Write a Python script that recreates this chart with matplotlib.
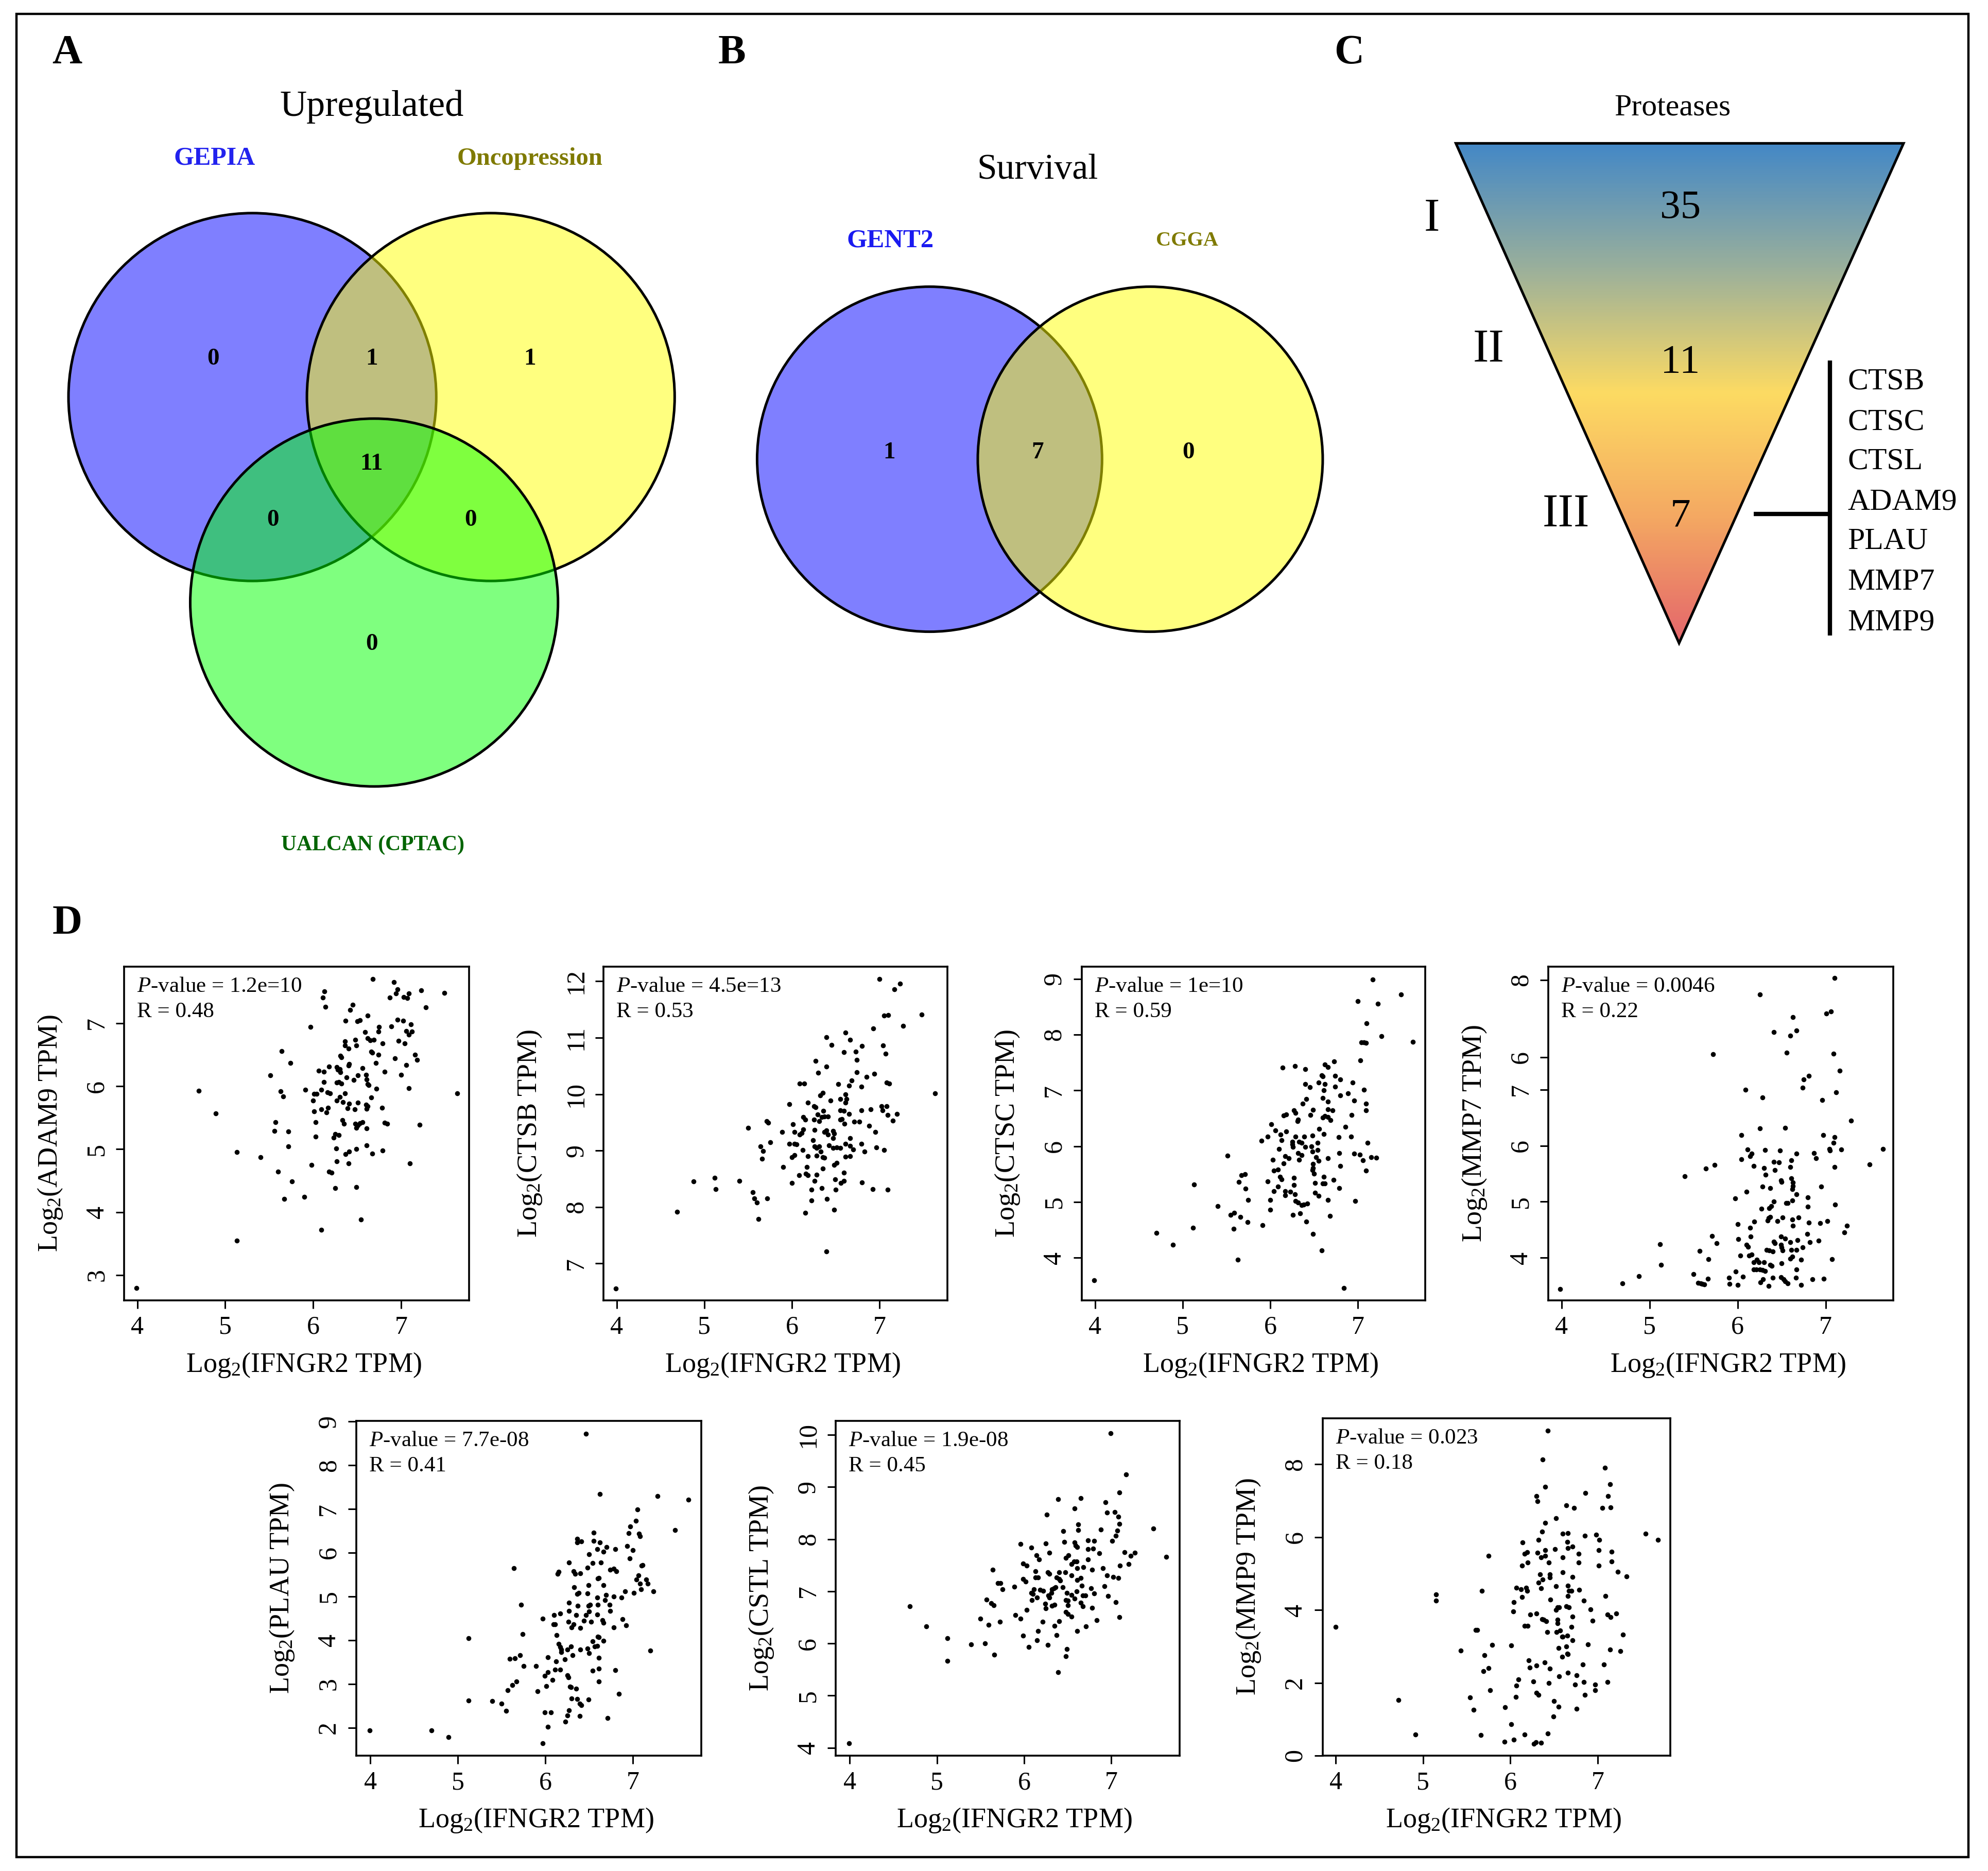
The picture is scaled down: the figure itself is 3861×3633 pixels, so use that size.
import numpy as np
import matplotlib
matplotlib.use('Agg')
import matplotlib.pyplot as plt
from matplotlib.patches import Circle, Polygon, Rectangle
from matplotlib.colors import LinearSegmentedColormap

plt.rcParams['font.family'] = ['Liberation Serif', 'DejaVu Serif']
plt.rcParams['mathtext.fontset'] = 'custom'
plt.rcParams['mathtext.rm'] = 'Liberation Serif'
plt.rcParams['mathtext.it'] = 'Liberation Serif:italic'
plt.rcParams['mathtext.bf'] = 'Liberation Serif:bold'

# scatter values (x = IFNGR2, y = gene)
adam9_pts = [(3.99,2.79),(4.70,5.93),(4.89,5.57),(5.13,4.95),(5.13,3.55),(5.40,4.87),(5.51,6.17),(5.56,5.29),(5.57,5.43),(5.60,4.64),
(5.64,6.56),(5.63,5.92),(5.66,5.84),(5.72,5.28),(5.72,5.04),(5.67,4.21),(5.74,6.37),(5.76,4.49),(5.90,4.24),(5.91,5.94),
(5.97,6.94),(5.98,4.75),(6.00,5.77),(6.01,5.88),(6.04,5.88),(6.01,5.60),(6.03,5.43),(6.03,5.20),(6.06,6.25),(6.09,5.94),
(6.09,5.63),(6.09,3.72),(6.11,7.41),(6.13,7.51),(6.14,7.26),(6.12,6.07),(6.12,6.23),(6.18,6.31),(6.16,5.90),(6.19,5.89),
(6.15,5.58),(6.17,5.66),(6.18,4.64),(6.21,4.63),(6.23,5.18),(6.25,4.38),(6.26,5.01),(6.27,5.77),(6.25,5.24),(6.29,5.22),
(6.27,4.81),(6.27,6.30),(6.28,6.26),(6.30,6.27),(6.31,6.22),(6.27,6.06),(6.29,6.07),(6.32,6.04),(6.30,5.83),(6.31,6.48),
(6.32,6.46),(6.34,5.75),(6.33,5.46),(6.36,5.89),(6.35,5.40),(6.37,7.04),(6.36,6.71),(6.36,6.65),(6.40,6.60),(6.38,6.14),
(6.40,6.33),(6.41,6.35),(6.39,5.65),(6.41,5.72),(6.37,4.92),(6.41,4.96),(6.40,4.77),(6.42,7.21),(6.45,7.29),(6.46,6.10),
(6.47,5.63),(6.48,6.74),(6.49,6.65),(6.50,7.03),(6.53,7.05),(6.48,5.40),(6.49,5.34),(6.51,5.38),(6.49,5.00),(6.49,4.40),
(6.51,5.74),(6.51,6.17),(6.56,6.29),(6.53,5.41),(6.56,5.43),(6.54,3.88),(6.59,6.86),(6.62,7.12),(6.60,6.18),(6.61,6.11),
(6.62,6.03),(6.63,6.02),(6.66,5.82),(6.60,5.71),(6.62,5.68),(6.61,5.64),(6.61,5.33),(6.61,5.06),(6.67,4.93),(6.62,6.76),
(6.65,6.73),(6.69,6.74),(6.66,6.55),(6.67,6.53),(6.74,6.50),(6.71,6.37),(6.74,6.87),(6.75,6.94),(6.79,6.68),(6.81,6.23),
(6.72,5.96),(6.78,5.66),(6.81,5.42),(6.84,5.40),(6.79,4.98),(6.68,7.70),(6.87,7.41),(6.92,7.65),(6.96,7.54),(6.94,7.47),
(6.89,6.95),(6.96,7.06),(7.02,7.04),(6.97,6.72),(7.04,6.68),(6.93,6.44),(7.06,6.34),(7.00,6.18),(7.09,5.97),(7.03,7.42),
(7.07,7.40),(7.09,7.47),(7.23,7.52),(7.49,7.48),(7.28,7.25),(7.11,6.98),(7.06,6.88),(7.12,6.87),(7.09,6.82),(7.16,6.50),
(7.18,6.42),(7.64,5.89),(7.21,5.39),(7.10,4.77)]

ctsb_pts = [(3.99,6.56),(4.69,7.92),(4.88,8.45),(5.12,8.52),(5.13,8.32),(5.40,8.46),(5.50,9.40),(5.55,8.26),(5.57,8.15),(5.60,8.08),
(5.62,7.79),(5.64,9.07),(5.67,8.99),(5.66,8.86),(5.71,9.52),(5.73,9.49),(5.72,8.15),(5.75,9.15),(5.89,9.33),(5.90,8.71),
(5.97,9.82),(5.97,9.12),(6.00,8.43),(6.01,9.47),(6.03,9.33),(6.03,9.12),(6.05,9.11),(6.00,8.88),(6.03,8.92),(6.09,10.19),
(6.14,10.19),(6.09,9.28),(6.11,9.31),(6.13,9.38),(6.12,9.01),(6.08,8.56),(6.13,9.59),(6.15,9.55),(6.18,9.85),(6.15,7.90),
(6.17,8.71),(6.16,8.59),(6.18,8.56),(6.18,8.90),(6.22,8.31),(6.22,8.12),(6.24,9.18),(6.27,10.59),(6.30,10.38),(6.25,9.79),
(6.27,9.77),(6.25,9.55),(6.29,9.64),(6.31,9.52),(6.26,9.37),(6.26,9.07),(6.28,9.05),(6.31,9.07),(6.33,8.98),(6.28,8.91),
(6.26,8.46),(6.28,8.57),(6.34,8.34),(6.32,9.98),(6.35,10.02),(6.34,9.59),(6.36,9.70),(6.37,9.60),(6.41,9.60),(6.39,11.01),
(6.39,10.49),(6.39,7.21),(6.35,8.68),(6.35,8.88),(6.37,8.87),(6.37,9.33),(6.39,9.36),(6.41,9.28),(6.42,9.09),(6.40,8.14),
(6.44,9.89),(6.45,10.87),(6.47,9.35),(6.48,9.30),(6.47,9.22),(6.47,9.05),(6.51,9.06),(6.55,9.05),(6.48,8.75),(6.51,8.78),
(6.49,8.49),(6.50,8.31),(6.48,7.95),(6.53,10.18),(6.55,9.91),(6.55,9.55),(6.55,9.71),(6.59,9.70),(6.57,9.56),(6.60,9.48),
(6.59,10.74),(6.61,11.09),(6.66,10.96),(6.61,10.00),(6.62,9.91),(6.61,9.85),(6.65,9.65),(6.59,8.61),(6.56,8.43),(6.59,8.46),
(6.61,8.89),(6.61,9.12),(6.66,9.22),(6.66,9.08),(6.66,8.90),(6.70,9.02),(6.65,10.15),(6.68,10.24),(6.71,9.51),(6.77,9.51),
(6.73,10.75),(6.74,10.61),(6.74,10.39),(6.79,10.13),(6.80,10.85),(6.79,9.71),(6.79,9.12),(6.80,8.44),(6.83,8.98),(6.85,10.31),
(6.90,9.73),(6.88,9.44),(6.92,8.32),(6.93,11.16),(6.94,10.36),(6.95,9.33),(6.96,9.06),(7.00,12.04),(7.02,9.79),(7.03,9.71),
(7.05,9.01),(7.04,10.86),(7.07,10.72),(7.05,11.39),(7.10,11.40),(7.08,9.79),(7.09,9.63),(7.08,10.21),(7.11,10.19),(7.09,8.31),
(7.15,9.53),(7.20,9.65),(7.17,11.86),(7.23,11.96),(7.27,11.21),(7.48,11.41),(7.63,10.01)]

ctsc_pts = [(3.99,3.60),(4.70,4.45),(4.89,4.23),(5.13,5.31),(5.12,4.54),(5.40,4.93),(5.51,5.83),(5.55,4.77),(5.59,4.81),(5.58,4.52),
(5.63,3.97),(5.64,5.36),(5.66,4.73),(5.67,5.48),(5.71,5.50),(5.72,5.24),(5.74,4.64),(5.75,5.04),(5.90,6.10),(5.91,4.58),
(5.97,6.17),(5.97,5.37),(6.00,5.04),(6.00,4.86),(6.01,6.39),(6.03,5.76),(6.04,5.19),(6.04,5.56),(6.06,6.28),(6.09,5.58),
(6.09,5.28),(6.10,5.95),(6.12,6.21),(6.13,6.11),(6.11,5.45),(6.13,5.41),(6.14,7.41),(6.15,5.69),(6.15,6.55),(6.18,6.57),
(6.18,6.26),(6.17,5.82),(6.21,5.78),(6.17,5.19),(6.17,5.12),(6.23,5.18),(6.27,5.43),(6.27,5.30),(6.28,5.14),(6.26,4.77),
(6.28,7.44),(6.27,6.64),(6.29,6.60),(6.25,6.08),(6.25,6.03),(6.26,5.99),(6.29,6.17),(6.31,6.45),(6.32,6.48),(6.29,5.02),
(6.32,4.99),(6.36,4.94),(6.38,4.95),(6.42,4.97),(6.34,4.80),(6.33,6.08),(6.36,6.06),(6.32,5.88),(6.36,5.84),(6.33,5.76),
(6.37,6.76),(6.39,6.17),(6.40,5.99),(6.40,7.38),(6.40,7.11),(6.45,7.06),(6.41,6.85),(6.41,4.65),(6.46,6.56),(6.49,6.65),
(6.47,6.00),(6.48,5.90),(6.48,6.19),(6.54,6.06),(6.54,5.93),(6.49,5.68),(6.49,5.61),(6.48,5.57),(6.50,5.51),(6.51,5.34),
(6.51,5.17),(6.55,5.11),(6.49,4.43),(6.56,6.31),(6.61,6.22),(6.52,5.80),(6.55,5.74),(6.55,7.14),(6.59,7.27),(6.60,7.25),
(6.62,7.11),(6.61,7.00),(6.60,6.86),(6.66,6.80),(6.60,6.51),(6.62,6.54),(6.66,6.52),(6.69,6.47),(6.66,6.66),(6.71,6.64),
(6.61,5.45),(6.60,5.33),(6.62,5.33),(6.59,4.13),(6.62,7.46),(6.66,7.42),(6.73,7.52),(6.66,5.78),(6.66,5.04),(6.68,4.75),
(6.72,5.40),(6.74,7.07),(6.74,7.26),(6.80,7.20),(6.80,6.91),(6.78,6.16),(6.79,5.88),(6.80,5.65),(6.79,5.25),(6.84,3.46),
(6.86,6.35),(6.89,6.95),(6.92,6.17),(6.93,6.56),(6.94,7.14),(6.96,6.82),(6.96,5.87),(6.97,5.02),(7.00,8.60),(7.02,5.85),
(7.03,7.54),(7.04,7.86),(7.07,7.86),(7.09,7.85),(7.06,5.75),(7.07,7.01),(7.09,6.76),(7.09,6.64),(7.09,5.56),(7.11,6.06),
(7.10,8.20),(7.17,8.99),(7.23,8.55),(7.27,7.97),(7.15,5.80),(7.21,5.79),(7.49,8.72),(7.63,7.87)]

mmp7_pts = [(3.98,3.44),(4.69,3.54),(4.88,3.67),(5.12,4.24),(5.13,3.87),(5.40,5.45),(5.50,3.71),(5.55,3.55),(5.58,3.54),(5.60,3.53),
(5.62,3.52),(5.64,5.59),(5.66,3.62),(5.57,4.12),(5.67,3.97),(5.71,4.39),(5.72,7.63),(5.74,5.66),(5.76,4.26),(5.90,3.64),
(5.91,3.53),(5.97,5.06),(5.98,3.75),(6.00,3.51),(6.00,4.60),(6.01,4.33),(6.03,4.04),(6.04,5.76),(6.04,6.19),(6.06,3.66),
(6.09,7.00),(6.10,5.18),(6.10,4.23),(6.12,4.19),(6.11,5.93),(6.13,4.04),(6.16,4.06),(6.14,4.53),(6.15,4.38),(6.14,5.81),
(6.16,5.86),(6.18,5.64),(6.19,4.64),(6.18,3.92),(6.18,3.79),(6.22,3.96),(6.21,3.79),(6.24,3.92),(6.25,3.79),(6.28,3.78),
(6.31,3.76),(6.25,8.70),(6.25,6.31),(6.28,6.86),(6.28,5.27),(6.27,4.87),(6.26,3.56),(6.29,3.61),(6.30,3.92),(6.31,5.92),
(6.30,5.60),(6.32,5.48),(6.33,4.14),(6.36,4.13),(6.40,4.11),(6.34,4.66),(6.35,4.71),(6.37,4.73),(6.37,5.24),(6.35,3.49),
(6.36,4.88),(6.38,4.92),(6.37,3.87),(6.39,3.85),(6.40,3.64),(6.41,8.03),(6.41,5.00),(6.41,4.29),(6.42,4.26),(6.41,5.71),
(6.47,5.70),(6.42,5.56),(6.45,4.65),(6.48,5.91),(6.49,4.38),(6.49,5.38),(6.50,5.35),(6.49,4.23),(6.50,4.18),(6.51,4.13),
(6.50,3.90),(6.49,3.65),(6.52,3.61),(6.54,3.58),(6.57,3.54),(6.51,4.72),(6.54,4.34),(6.54,6.32),(6.56,7.66),(6.55,4.98),
(6.57,4.98),(6.60,4.28),(6.61,4.14),(6.60,3.98),(6.62,4.02),(6.60,5.62),(6.61,5.74),(6.61,5.42),(6.60,7.97),(6.63,8.30),
(6.67,8.06),(6.63,5.34),(6.63,5.28),(6.62,5.22),(6.62,5.02),(6.62,4.68),(6.63,4.57),(6.67,5.86),(6.67,5.13),(6.67,4.14),
(6.68,4.31),(6.67,3.79),(6.66,3.64),(6.69,4.72),(6.72,3.51),(6.72,3.96),(6.74,4.18),(6.74,7.04),(6.75,7.18),(6.81,7.25),
(6.79,4.42),(6.82,4.28),(6.80,5.08),(6.80,4.91),(6.81,4.63),(6.85,3.61),(6.87,5.87),(6.89,5.78),(6.92,4.30),(6.94,4.62),
(6.95,5.27),(6.96,6.82),(6.97,6.19),(6.98,3.62),(7.01,8.36),(7.06,8.40),(7.02,4.65),(7.04,5.94),(7.05,5.91),(7.07,3.97),
(7.10,6.15),(7.09,6.05),(7.09,7.64),(7.10,9.00),(7.12,6.95),(7.10,5.62),(7.11,4.95),(7.16,7.34),(7.18,5.93),(7.21,4.45),
(7.24,4.57),(7.29,6.45),(7.50,5.67),(7.65,5.94)]

plau_pts = [(3.99,1.93),(4.70,1.93),(4.89,1.78),(5.12,4.05),(5.12,2.62),(5.39,2.61),(5.50,2.55),(5.55,2.38),(5.57,2.85),(5.59,3.57),
(5.62,2.97),(5.64,5.65),(5.65,3.58),(5.67,3.06),(5.71,3.66),(5.72,4.81),(5.74,4.14),(5.75,3.41),(5.89,3.41),(5.91,2.83),
(5.97,4.49),(5.97,1.64),(5.99,3.19),(6.01,2.95),(5.99,2.35),(6.03,3.27),(6.03,3.61),(6.03,2.02),(6.06,2.35),(6.08,3.09),
(6.10,4.57),(6.09,4.36),(6.11,4.36),(6.11,3.33),(6.12,3.52),(6.13,4.12),(6.14,5.52),(6.15,5.56),(6.15,3.92),(6.17,3.32),
(6.17,4.61),(6.17,3.84),(6.18,3.78),(6.18,3.73),(6.22,3.56),(6.23,2.14),(6.25,2.28),(6.27,2.40),(6.25,3.79),(6.25,3.20),
(6.26,3.15),(6.26,4.42),(6.27,4.86),(6.27,4.67),(6.27,5.78),(6.28,2.94),(6.29,2.93),(6.30,2.67),(6.29,3.86),(6.31,3.65),
(6.30,4.29),(6.32,4.36),(6.32,5.57),(6.34,5.52),(6.33,5.21),(6.35,2.89),(6.36,2.66),(6.35,4.58),(6.37,4.79),(6.36,5.06),
(6.38,5.08),(6.36,6.32),(6.36,6.24),(6.41,6.26),(6.39,2.55),(6.41,2.51),(6.39,2.26),(6.40,5.53),(6.40,4.28),(6.40,3.78),
(6.46,8.72),(6.44,4.45),(6.46,4.58),(6.48,5.66),(6.48,5.07),(6.48,3.81),(6.49,2.64),(6.49,5.26),(6.49,4.79),(6.50,5.96),
(6.51,4.81),(6.50,4.66),(6.50,3.70),(6.52,4.42),(6.54,5.77),(6.54,3.30),(6.55,6.46),(6.55,6.27),(6.54,3.97),(6.56,3.86),
(6.59,3.87),(6.59,4.98),(6.59,6.08),(6.60,5.41),(6.61,5.42),(6.60,4.81),(6.59,4.59),(6.60,4.08),(6.61,4.07),(6.61,3.60),
(6.61,3.35),(6.61,3.06),(6.62,7.34),(6.62,6.23),(6.63,5.78),(6.66,6.02),(6.66,5.26),(6.65,4.46),(6.66,4.40),(6.66,3.99),
(6.69,5.03),(6.68,4.92),(6.70,6.13),(6.71,2.22),(6.73,4.81),(6.74,4.67),(6.74,5.61),(6.78,5.63),(6.81,5.57),(6.78,4.29),
(6.78,5.00),(6.80,6.08),(6.80,3.31),(6.84,2.77),(6.87,4.97),(6.88,4.48),(6.91,5.12),(6.92,4.34),(6.93,6.15),(6.95,6.45),
(6.96,5.87),(6.97,6.60),(7.00,6.06),(7.01,5.08),(7.03,6.73),(7.04,5.39),(7.05,6.99),(7.06,5.48),(7.07,6.43),(7.08,6.38),
(7.08,5.29),(7.09,5.16),(7.10,5.70),(7.11,5.72),(7.15,5.39),(7.17,5.29),(7.20,3.76),(7.23,5.12),(7.28,7.30),(7.48,6.52),
(7.63,7.21)]

cstl_pts = [(3.99,4.09),(4.69,6.71),(4.88,6.33),(5.12,6.10),(5.12,5.67),(5.39,5.98),(5.50,6.47),(5.55,6.00),(5.57,6.84),(5.59,6.36),
(5.62,6.77),(5.65,6.73),(5.64,7.41),(5.66,5.78),(5.70,7.16),(5.73,7.16),(5.72,6.42),(5.75,7.04),(5.89,7.09),(5.90,6.54),
(5.96,7.91),(5.96,6.47),(5.99,7.24),(6.02,7.19),(5.99,6.15),(5.99,7.53),(6.03,7.49),(6.03,6.64),(6.05,5.93),(6.08,7.84),
(6.08,6.97),(6.10,6.95),(6.09,6.83),(6.11,7.04),(6.13,7.38),(6.13,7.26),(6.16,7.26),(6.15,6.88),(6.14,7.69),(6.17,7.61),
(6.16,6.24),(6.15,6.06),(6.18,7.03),(6.22,7.01),(6.21,6.42),(6.25,7.92),(6.24,6.76),(6.25,6.67),(6.27,7.36),(6.29,7.33),
(6.26,8.47),(6.27,5.97),(6.28,6.92),(6.29,6.88),(6.29,7.74),(6.31,6.97),(6.32,7.04),(6.34,7.06),(6.32,6.72),(6.35,6.74),
(6.36,7.08),(6.37,7.26),(6.40,7.36),(6.40,7.24),(6.41,7.21),(6.35,6.34),(6.37,6.16),(6.39,8.77),(6.40,6.43),(6.39,5.45),
(6.44,7.08),(6.45,8.15),(6.46,7.95),(6.47,7.36),(6.49,6.97),(6.48,7.64),(6.51,7.69),(6.48,6.83),(6.50,6.82),(6.50,6.73),
(6.48,6.60),(6.50,6.56),(6.54,6.51),(6.49,5.89),(6.48,5.75),(6.54,7.52),(6.57,7.57),(6.60,7.57),(6.54,7.30),(6.54,6.93),
(6.58,8.59),(6.58,7.94),(6.59,7.88),(6.61,7.85),(6.61,7.44),(6.58,6.86),(6.60,7.00),(6.61,6.24),(6.62,8.28),(6.62,8.17),
(6.65,8.79),(6.61,7.22),(6.65,7.25),(6.66,7.11),(6.65,6.78),(6.67,6.71),(6.67,6.92),(6.70,6.92),(6.68,7.46),(6.73,7.61),
(6.73,7.98),(6.73,7.81),(6.79,7.82),(6.80,7.97),(6.71,6.33),(6.78,7.41),(6.77,7.06),(6.80,6.96),(6.78,6.68),(6.83,6.45),
(6.86,7.73),(6.88,8.18),(6.90,7.44),(6.92,7.10),(6.93,8.71),(6.95,8.51),(6.95,7.30),(6.96,6.91),(6.99,10.03),(7.01,7.97),
(7.02,7.27),(7.04,8.52),(7.05,8.06),(7.05,6.79),(7.07,8.16),(7.08,7.25),(7.08,8.43),(7.09,8.29),(7.09,6.50),(7.09,8.89),
(7.10,7.49),(7.15,7.75),(7.17,9.24),(7.20,7.52),(7.22,7.68),(7.27,7.74),(7.48,8.20),(7.63,7.66)]

mmp9_pts = [(4.00,3.54),(4.72,1.53),(4.91,0.58),(5.15,4.42),(5.15,4.26),(5.43,2.88),(5.54,1.60),(5.58,1.26),(5.60,3.45),(5.62,3.45),
(5.66,0.57),(5.67,4.53),(5.69,2.32),(5.70,2.76),(5.75,2.41),(5.75,5.49),(5.77,1.80),(5.79,3.04),(5.93,0.38),(5.94,1.33),
(6.01,3.02),(6.01,0.86),(6.03,3.96),(6.04,4.21),(6.04,0.44),(6.07,1.92),(6.06,1.61),(6.07,4.61),(6.09,2.09),(6.12,4.57),
(6.13,4.35),(6.13,5.22),(6.14,5.86),(6.16,3.56),(6.16,0.58),(6.16,5.55),(6.19,5.58),(6.18,4.61),(6.19,4.53),(6.20,3.57),
(6.20,5.31),(6.21,2.61),(6.22,2.42),(6.23,3.88),(6.26,2.04),(6.27,0.33),(6.29,0.37),(6.35,0.35),(6.30,7.13),(6.31,6.99),
(6.30,3.90),(6.30,2.47),(6.30,1.73),(6.32,1.67),(6.32,4.75),(6.31,5.57),(6.32,5.93),(6.34,4.98),(6.35,4.60),(6.35,5.45),
(6.37,4.83),(6.36,6.15),(6.37,8.14),(6.36,3.75),(6.38,3.73),(6.40,7.38),(6.40,6.39),(6.40,5.49),(6.40,5.64),(6.39,2.56),
(6.41,3.69),(6.42,3.40),(6.43,8.93),(6.43,0.60),(6.44,5.30),(6.44,2.00),(6.45,4.98),(6.45,4.90),(6.45,2.39),(6.46,4.29),
(6.49,1.08),(6.50,1.50),(6.52,6.52),(6.51,5.67),(6.52,4.65),(6.52,4.00),(6.54,4.07),(6.54,3.73),(6.54,3.64),(6.53,3.40),
(6.56,4.07),(6.55,2.95),(6.56,2.17),(6.55,1.34),(6.57,3.44),(6.59,3.26),(6.59,2.72),(6.60,6.09),(6.60,5.44),(6.60,5.04),
(6.60,3.26),(6.64,3.00),(6.65,3.29),(6.64,6.87),(6.66,6.11),(6.65,5.87),(6.66,5.70),(6.71,5.74),(6.65,2.80),(6.66,2.78),
(6.64,4.10),(6.67,4.07),(6.66,4.67),(6.67,4.52),(6.70,4.53),(6.66,4.38),(6.66,2.27),(6.71,4.91),(6.71,3.82),(6.70,3.54),
(6.71,3.17),(6.73,6.80),(6.74,1.95),(6.76,1.28),(6.76,2.20),(6.78,5.55),(6.78,5.31),(6.79,4.56),(6.83,2.50),(6.84,4.26),
(6.84,2.02),(6.86,7.21),(6.85,6.04),(6.85,1.67),(6.89,3.05),(6.92,4.02),(6.94,3.70),(6.97,1.95),(6.97,1.80),(6.98,6.07),
(7.02,5.92),(7.01,5.65),(7.01,5.22),(7.05,6.80),(7.07,2.50),(7.08,7.91),(7.09,4.38),(7.11,2.02),(7.11,3.87),(7.12,7.13),
(7.14,7.45),(7.15,6.82),(7.14,2.91),(7.15,3.81),(7.16,5.33),(7.16,5.60),(7.21,3.91),(7.23,5.05),(7.26,2.87),(7.29,3.33),
(7.33,4.92),(7.55,6.09),(7.69,5.92)]

# venn counts
up_counts = ['0', '1', '1', '11', '0', '0', '0']
surv_counts = ['1', '7', '0']
funnel_counts = ['35', '11', '7']
funnel_levels = ['I', 'II', 'III']
genes = ['CTSB', 'CTSC', 'CTSL', 'ADAM9', 'PLAU', 'MMP7', 'MMP9']

W, H = 1568, 1475  # work in the small-picture pixel grid

fig = plt.figure(figsize=(38.62, 36.33), dpi=100)
bg = fig.add_axes([0, 0, 1, 1])
bg.set_xlim(0, W)
bg.set_ylim(H, 0)
bg.axis('off')


def put(x, y, s, **kw):
    # va=center sits a bit high in this font
    kw.setdefault('ha', 'center')
    bg.text(x, y + 2, s, va='center', **kw)


# outer frame
bg.add_patch(Rectangle((13, 11), 1539, 1453, fill=False, ec='black', lw=3.2))

for lab, x, y in [('A', 53, 40), ('B', 577, 40), ('C', 1064, 40), ('D', 53, 726)]:
    put(x, y, lab, fontsize=58, fontweight='bold')


def venn_circle(x, y, r, col):
    bg.add_patch(Circle((x, y), r, fc=col, alpha=0.5, ec='none'))
    bg.add_patch(Circle((x, y), r, fill=False, ec='black', lw=3.6))


# panel A
venn_circle(199, 313, 145, 'blue')
venn_circle(387, 313, 145, 'yellow')
venn_circle(295, 475, 145, 'lime')
put(293, 82, 'Upregulated', fontsize=52)
put(169, 123, 'GEPIA', fontsize=36, fontweight='bold', color='#2222ee')
put(418, 123, 'Oncopression', fontsize=35, fontweight='bold', color='#7f7a00')
put(294, 664, 'UALCAN (CPTAC)', fontsize=30, fontweight='bold', color='#006400')
up_xy = [(168, 281), (293, 281), (418, 281), (293, 364), (215, 408), (371, 408), (293, 506)]
for t, (x, y) in zip(up_counts, up_xy):
    put(x, y, t, fontsize=34, fontweight='bold')

# panel B
venn_circle(733, 362, 136, 'blue')
venn_circle(907, 362, 136, 'yellow')
put(818, 132, 'Survival', fontsize=50)
put(702, 188, 'GENT2', fontsize=36.5, fontweight='bold', color='#1a1af0')
put(936, 188, 'CGGA', fontsize=29, fontweight='bold', color='#7f7a00')
for t, x in zip(surv_counts, [701, 818, 937]):
    put(x, 355, t, fontsize=34, fontweight='bold')

# panel C, funnel with colour gradient
cm = LinearSegmentedColormap.from_list('fun', ['#4488c6', '#9bb09b', '#fddb63', '#f4a862', '#e4666c'],)
grad = np.linspace(0, 1, 400).reshape(-1, 1)
tri = Polygon([(1148, 113), (1501, 113), (1324, 507)], closed=True, fc='none', ec='black', lw=3.6, joinstyle='miter')
im = bg.imshow(grad, extent=[1148, 1501, 507, 113], aspect='auto', cmap=cm, zorder=1)
bg.add_patch(tri)
tri.set_zorder(2)
im.set_clip_path(tri)
bg.set_xlim(0, W)
bg.set_ylim(H, 0)
put(1319, 83, 'Proteases', fontsize=43)
for t, y in zip(funnel_counts, [162, 284, 405]):
    put(1325, y, t, fontsize=57, zorder=3)
for t, x, y in zip(funnel_levels, [1129, 1174, 1235], [171, 274, 404]):
    put(x, y, t, fontsize=66)
bg.plot([1383, 1443], [405, 405], color='black', lw=6, solid_capstyle='butt')
bg.plot([1443, 1443], [284, 501], color='black', lw=6, solid_capstyle='butt')
for g, y in zip(genes, [299, 331, 362, 394, 425, 457, 489]):
    put(1457, y, g, fontsize=43, ha='left')

# panel D scatter plots
XLAB = 'Log$_2$(IFNGR2 TPM)'


def scatter_panel(box, pts, ylab, pval, r, xlim, ylim, yticks, yticklabels=None):
    l, r_, t, b = box
    ax = fig.add_axes([l / W, 1 - b / H, (r_ - l) / W, (b - t) / H])
    arr = np.array(pts)
    ax.scatter(arr[:, 0], arr[:, 1], s=48, c='black', lw=0, clip_on=False)
    ax.set_xlim(*xlim)
    ax.set_ylim(*ylim)
    ax.set_xticks([4, 5, 6, 7])
    ax.set_yticks(yticks)
    if yticklabels is not None:
        ax.set_yticklabels(yticklabels)
    ax.tick_params(length=11.5, width=2.2, labelsize=36, pad=10)
    plt.setp(ax.get_yticklabels(), rotation=90, va='center')
    for s in ax.spines.values():
        s.set_linewidth(2.6)
    ax.set_xlabel(XLAB, fontsize=39, labelpad=16, x=0.52)
    ax.set_ylabel(ylab, fontsize=39, labelpad=29)
    ax.text(0.037, 0.94, '$\\mathit{P}$-value = ' + pval, transform=ax.transAxes, fontsize=31, va='center')
    ax.text(0.037, 0.865, 'R = ' + r, transform=ax.transAxes, fontsize=31, va='center')
    return ax


scatter_panel((98, 370, 762, 1025), adam9_pts, 'Log$_2$(ADAM9 TPM)', '1.2e=10', '0.48',
              (3.852, 7.774), (2.6, 7.9), [3, 4, 5, 6, 7])
scatter_panel((476, 747, 762, 1025), ctsb_pts, 'Log$_2$(CTSB TPM)', '4.5e=13', '0.53',
              (3.852, 7.772), (6.35, 12.26), [7, 8, 9, 10, 11, 12])
scatter_panel((853, 1124, 762, 1025), ctsc_pts, 'Log$_2$(CTSC TPM)', '1e=10', '0.59',
              (3.849, 7.771), (3.24, 9.22), [4, 5, 6, 7, 8, 9])
scatter_panel((1221, 1493, 762, 1025), mmp7_pts, 'Log$_2$(MMP7 TPM)', '0.0046', '0.22',
              (3.85, 7.77), (3.24, 9.2), [4, 5, 6, 7, 7.58, 8.96], ['4', '5', '6', '7', '6', '8'])
scatter_panel((281, 553, 1120, 1384), plau_pts, 'Log$_2$(PLAU TPM)', '7.7e-08', '0.41',
              (3.84, 7.78), (1.36, 9.02), [2, 3, 4, 5, 6, 7, 8, 9])
scatter_panel((659, 930, 1120, 1384), cstl_pts, 'Log$_2$(CSTL TPM)', '1.9e-08', '0.45',
              (3.84, 7.78), (3.85, 10.27), [4, 5, 6, 7, 8, 9, 10])
scatter_panel((1043, 1317, 1118, 1384), mmp9_pts, 'Log$_2$(MMP9 TPM)', '0.023', '0.18',
              (3.85, 7.83), (0, 9.27), [0, 2, 4, 6, 8])

fig.savefig('out.png', dpi=100)
